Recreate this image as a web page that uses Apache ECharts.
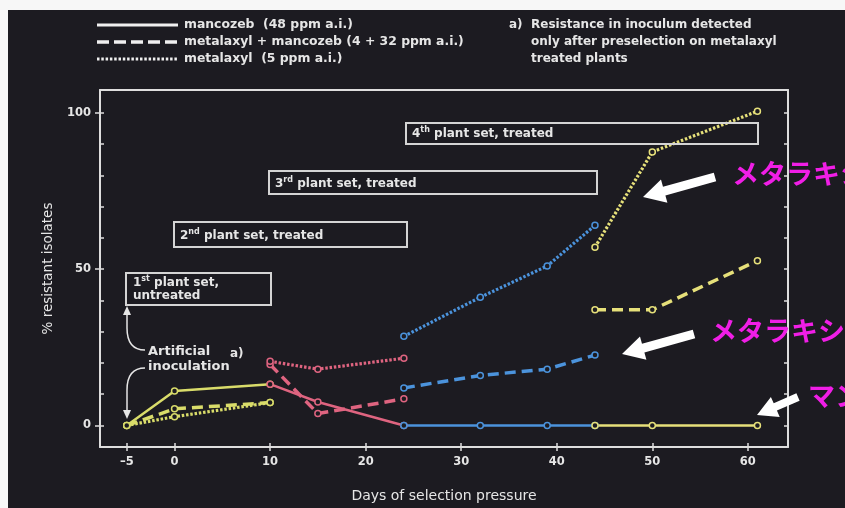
<!DOCTYPE html>
<html><head><meta charset="utf-8">
<script src="https://cdn.jsdelivr.net/npm/echarts@6/dist/echarts.min.js"></script>
<style>html,body{margin:0;padding:0;background:#fff}#c{width:845px;height:508px}</style>
</head><body><div id="c"></div>
<script>
// ---- tick labels ----
const xTicks = [-5, 0, 10, 20, 30, 40, 50, 60];
const yLabelTicks = [0, 50, 100];
const yMinorTicks = [0, 10, 20, 30, 40, 50, 60, 70, 80, 90, 100];

// ---- data (days, % resistant isolates) ----
const set1Days = [-5, 0, 10];
const set1Mancozeb = [0, 11, 13.2];
const set1Mixture = [0, 5.3, 7.3];
const set1Metalaxyl = [0, 2.8, 7.3];

const set2Days = [10, 15, 24];
const set2Mancozeb = [13.2, 7.5, 0];
const set2Mixture = [19.5, 3.8, 8.5];
const set2Metalaxyl = [20.5, 18, 21.5];

const set3Days = [24, 32, 39, 44];
const set3Mancozeb = [0, 0, 0, 0];
const set3Mixture = [12, 16, 18, 22.5];
const set3Metalaxyl = [28.5, 41, 51, 64];

const set4Days = [44, 50, 61];
const set4Mancozeb = [0, 0, 0];
const set4Mixture = [37, 37, 52.7];
const set4Metalaxyl = [57, 87.5, 100.5];

// ---- texts ----
const legendLabels = ['mancozeb  (48 ppm a.i.)', 'metalaxyl + mancozeb (4 + 32 ppm a.i.)', 'metalaxyl  (5 ppm a.i.)'];
const noteLines = ['Resistance in inoculum detected', 'only after preselection on metalaxyl', 'treated plants'];
const xTitle = 'Days of selection pressure';
const yTitle = '% resistant isolates';
const jpLabels = ['メタラキシル', 'メタラキシル・マンゼブ', 'マンゼブ'];

const BG = '#1c1b21';
const AX = '#dedede';
const TXT = '#e6e6e6';
const FONT = '"DejaVu Sans", sans-serif';
const YEL1 = '#d9dc6a', YEL = '#e6e07a', RED = '#df6480', BLU = '#4b93dc';
const MAG = '#f01ee6';

const styles = {
  solid: { width: 2.5, type: 'solid' },
  dashed: { width: 3.5, type: [11, 6] },
  dotted: { width: 3.2, type: [2.5, 1.8] }
};

function mk(name, days, vals, color, st) {
  return {
    type: 'line', name: name, xAxisIndex: 0, yAxisIndex: 0,
    data: days.map((d, i) => [d, vals[i]]),
    symbol: 'circle', symbolSize: 6, showSymbol: true,
    lineStyle: { color: color, width: styles[st].width, type: styles[st].type, cap: 'butt' },
    itemStyle: { color: BG, borderColor: color, borderWidth: 1.5 },
    z: 3, animation: false, silent: true
  };
}

const series = [
  mk('s1-m', set1Days, set1Mancozeb, YEL1, 'solid'),
  mk('s1-x', set1Days, set1Mixture, YEL1, 'dashed'),
  mk('s1-t', set1Days, set1Metalaxyl, YEL1, 'dotted'),
  mk('s2-m', set2Days, set2Mancozeb, RED, 'solid'),
  mk('s2-x', set2Days, set2Mixture, RED, 'dashed'),
  mk('s2-t', set2Days, set2Metalaxyl, RED, 'dotted'),
  mk('s3-m', set3Days, set3Mancozeb, BLU, 'solid'),
  mk('s3-x', set3Days, set3Mixture, BLU, 'dashed'),
  mk('s3-t', set3Days, set3Metalaxyl, BLU, 'dotted'),
  mk('s4-m', set4Days, set4Mancozeb, YEL, 'solid'),
  mk('s4-x', set4Days, set4Mixture, YEL, 'dashed'),
  mk('s4-t', set4Days, set4Metalaxyl, YEL, 'dotted')
];

const XMIN = -7.8, XMAX = 64.2, YMIN = -6.9, YMAX = 107.3;
const axLine = { show: true, onZero: false, lineStyle: { color: AX, width: 2 } };

function arrow(tx, ty, hx, hy, sw, hw, hl) {
  const dx = hx - tx, dy = hy - ty, L = Math.hypot(dx, dy);
  const ux = dx / L, uy = dy / L, px = -uy, py = ux;
  const bx = hx - ux * hl, by = hy - uy * hl;
  return [
    [tx + px * sw / 2, ty + py * sw / 2], [bx + px * sw / 2, by + py * sw / 2],
    [bx + px * hw / 2, by + py * hw / 2], [hx, hy],
    [bx - px * hw / 2, by - py * hw / 2], [bx - px * sw / 2, by - py * sw / 2],
    [tx - px * sw / 2, ty - py * sw / 2]
  ];
}

const boxTextStyle = {
  n: { fontSize: 12, fontWeight: 'bold', fontFamily: FONT, fill: TXT, verticalAlign: 'bottom', lineHeight: 14 },
  s: { fontSize: 8, fontWeight: 'bold', fontFamily: FONT, fill: TXT, verticalAlign: 'top', lineHeight: 14 }
};

function plantBox(x, y, w, h, num, sup, rest, tx, ty) {
  return [
    { type: 'rect', shape: { x: x, y: y, width: w, height: h }, style: { fill: null, stroke: '#d4d4d4', lineWidth: 2 }, z: 5 },
    { type: 'text', x: tx, y: ty, style: { text: '{n|' + num + '}{s|' + sup + '}{n|' + rest + '}', rich: boxTextStyle, verticalAlign: 'middle' }, z: 5 }
  ];
}

function txt(x, y, s, size, weight) {
  return { type: 'text', x: x, y: y, style: { text: s, fill: TXT, font: (weight || 'bold') + ' ' + (size || 12) + 'px ' + FONT, verticalAlign: 'middle' }, z: 5 };
}

function jp(x, y, s) {
  return { type: 'text', x: x, y: y, style: { text: s, fill: MAG, font: 'bold 27px "Noto Sans CJK JP"', verticalAlign: 'middle' }, z: 6 };
}

const graphics = [
  { type: 'rect', shape: { x: 0, y: 0, width: 845, height: 10 }, style: { fill: '#f7f7f7' }, z: 10 },
  { type: 'rect', shape: { x: 0, y: 0, width: 8, height: 508 }, style: { fill: '#f7f7f7' }, z: 10 },
  // legend
  { type: 'line', shape: { x1: 97, y1: 25, x2: 178, y2: 25 }, style: { stroke: '#f0f0f0', lineWidth: 3 }, z: 5 },
  { type: 'line', shape: { x1: 97, y1: 42, x2: 178, y2: 42 }, style: { stroke: '#f0f0f0', lineWidth: 3.5, lineDash: [12, 5] }, z: 5 },
  { type: 'line', shape: { x1: 97, y1: 59, x2: 178, y2: 59 }, style: { stroke: '#f0f0f0', lineWidth: 3, lineDash: [2.5, 1.8] }, z: 5 },
  txt(184, 25, legendLabels[0], 12.4),
  txt(184, 42, legendLabels[1], 12.4),
  txt(184, 59, legendLabels[2], 12.4),
  // note a)
  txt(509, 25, 'a)'),
  txt(531, 25, noteLines[0]),
  txt(531, 42, noteLines[1]),
  txt(531, 59, noteLines[2]),
  // artificial inoculation
  txt(148, 352, 'Artificial', 13),
  txt(148, 367, 'inoculation', 13),
  txt(230, 354, 'a)', 12),
  { type: 'bezierCurve', shape: { x1: 145, y1: 350, cpx1: 127, cpy1: 350, x2: 127, y2: 328 }, style: { stroke: TXT, lineWidth: 1.5, fill: null }, z: 5 },
  { type: 'line', shape: { x1: 127, y1: 328, x2: 127, y2: 313 }, style: { stroke: TXT, lineWidth: 1.5 }, z: 5 },
  { type: 'polygon', shape: { points: [[127, 306], [123, 315], [131, 315]] }, style: { fill: TXT }, z: 5 },
  { type: 'bezierCurve', shape: { x1: 145, y1: 368, cpx1: 127, cpy1: 368, x2: 127, y2: 390 }, style: { stroke: TXT, lineWidth: 1.5, fill: null }, z: 5 },
  { type: 'line', shape: { x1: 127, y1: 390, x2: 127, y2: 411 }, style: { stroke: TXT, lineWidth: 1.5 }, z: 5 },
  { type: 'polygon', shape: { points: [[127, 419], [123, 410], [131, 410]] }, style: { fill: TXT }, z: 5 },
  // 1st box (two lines)
  { type: 'rect', shape: { x: 126, y: 273, width: 145, height: 32 }, style: { fill: null, stroke: '#d4d4d4', lineWidth: 2 }, z: 5 },
  { type: 'text', x: 133, y: 282, style: { text: '{n|1}{s|st}{n| plant set,}', rich: boxTextStyle, verticalAlign: 'middle' }, z: 5 },
  txt(133, 296, 'untreated')
].concat(
  plantBox(174, 222, 233, 25, '2', 'nd', ' plant set, treated', 180, 235),
  plantBox(269, 171, 328, 23, '3', 'rd', ' plant set, treated', 275, 183),
  plantBox(406, 123, 352, 21, '4', 'th', ' plant set, treated', 412, 133),
  [
    { type: 'polygon', shape: { points: arrow(715, 177, 643, 197, 9, 24, 22) }, style: { fill: '#ffffff' }, z: 6 },
    { type: 'polygon', shape: { points: arrow(694, 334, 622, 354, 9, 24, 22) }, style: { fill: '#ffffff' }, z: 6 },
    { type: 'polygon', shape: { points: arrow(798, 397, 757, 415, 8, 22, 20) }, style: { fill: '#ffffff' }, z: 6 },
    jp(732, 174, jpLabels[0]),
    jp(710, 331, jpLabels[1]),
    jp(808, 396, jpLabels[2])
  ]
);

const option = {
  backgroundColor: BG,
  animation: false,
  grid: { left: 100, right: 57, top: 90, bottom: 56, containLabel: false },
  xAxis: [
    {
      type: 'value', min: XMIN, max: XMAX, position: 'bottom',
      axisLine: axLine, splitLine: { show: false },
      axisTick: { show: true, customValues: xTicks, length: 4, lineStyle: { color: AX, width: 1.5 } },
      axisLabel: { customValues: xTicks, color: TXT, fontSize: 11.5, fontWeight: 'bold', fontFamily: FONT, margin: 9,
        formatter: v => (v < 0 ? '\u2013' + Math.abs(v) : String(v)) },
      name: xTitle, nameLocation: 'middle', nameGap: 42,
      nameTextStyle: { color: TXT, fontSize: 14, fontFamily: FONT }
    },
    {
      type: 'value', min: XMIN, max: XMAX, position: 'bottom',
      axisLine: { show: false, onZero: false }, splitLine: { show: false }, axisLabel: { show: false },
      axisTick: { show: true, inside: true, customValues: xTicks, length: 4, lineStyle: { color: AX, width: 1.5 } }
    },
    {
      type: 'value', min: XMIN, max: XMAX, position: 'top',
      axisLine: axLine, splitLine: { show: false }, axisLabel: { show: false }, axisTick: { show: false }
    }
  ],
  yAxis: [
    {
      type: 'value', min: YMIN, max: YMAX, position: 'left',
      axisLine: axLine, splitLine: { show: false },
      axisTick: { show: true, customValues: yLabelTicks, length: 5, lineStyle: { color: AX, width: 1.5 } },
      axisLabel: { customValues: yLabelTicks, color: TXT, fontSize: 11.5, fontWeight: 'bold', fontFamily: FONT, margin: 9 },
      name: yTitle, nameLocation: 'middle', nameGap: 45, nameRotate: 90,
      nameTextStyle: { color: TXT, fontSize: 13.5, fontFamily: FONT }
    },
    {
      type: 'value', min: YMIN, max: YMAX, position: 'left',
      axisLine: { show: false, onZero: false }, splitLine: { show: false }, axisLabel: { show: false },
      axisTick: { show: true, inside: true, customValues: yMinorTicks, length: 4, lineStyle: { color: AX, width: 1.5 } }
    },
    {
      type: 'value', min: YMIN, max: YMAX, position: 'right',
      axisLine: axLine, splitLine: { show: false }, axisLabel: { show: false },
      axisTick: { show: true, inside: true, customValues: yMinorTicks, length: 4, lineStyle: { color: AX, width: 1.5 } }
    }
  ],
  series: series,
  graphic: { elements: graphics }
};

const chart = echarts.init(document.getElementById('c'), null, { renderer: 'canvas' });
chart.setOption(option);
</script>
</body></html>
